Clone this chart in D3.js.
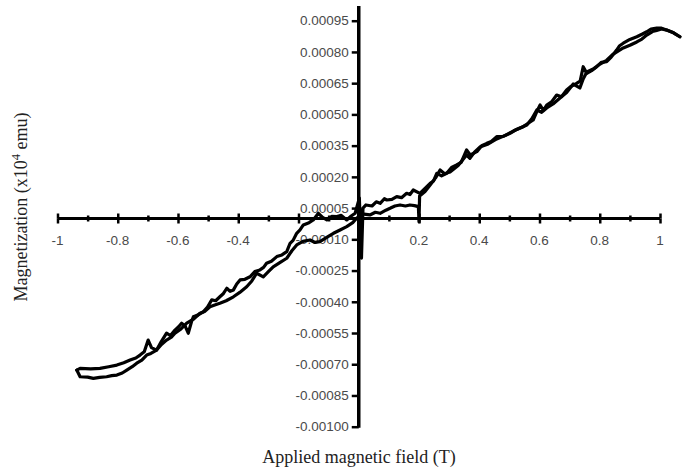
<!DOCTYPE html>
<html>
<head>
<meta charset="utf-8">
<script src="https://cdn.jsdelivr.net/npm/d3@7"></script>
<style>
  html, body { margin: 0; padding: 0; background: #fff; }
  svg { display: block; }
</style>
</head>
<body>
<svg id="chart" width="683" height="468"></svg>
<script>
// ---- Data (field in T, magnetization in emu) ----
// Upper branch of the loop (sweep down), listed left to right
const upperField = [-0.936,-0.925,-0.890,-0.859,-0.830,-0.803,-0.780,-0.759,-0.740,-0.726,-0.712,-0.699,-0.688,-0.671,-0.655,-0.638,-0.625,-0.610,-0.598,-0.588,-0.577,-0.566,-0.555,-0.549,-0.532,-0.516,-0.502,-0.488,-0.475,-0.461,-0.449,-0.438,-0.427,-0.416,-0.405,-0.394,-0.378,-0.361,-0.345,-0.328,-0.316,-0.306,-0.290,-0.272,-0.255,-0.239,-0.228,-0.218,-0.206,-0.195,-0.184,-0.165,-0.151,-0.134,-0.120,-0.106,-0.090,-0.073,-0.058,-0.040,-0.025,-0.012,0.002,0.009,0.014,0.024,0.044,0.058,0.071,0.085,0.093,0.110,0.126,0.142,0.159,0.170,0.181,0.203,0.220,0.237,0.248,0.259,0.275,0.292,0.308,0.325,0.340,0.358,0.370,0.392,0.408,0.425,0.440,0.458,0.480,0.502,0.520,0.546,0.560,0.579,0.590,0.602,0.613,0.624,0.640,0.657,0.673,0.690,0.705,0.723,0.735,0.745,0.757,0.773,0.790,0.805,0.823,0.838,0.856,0.866,0.878,0.900,0.923,0.940,0.956,0.970,0.989,1.005,1.022,1.045,1.066];
const upperMag = [-7.28e-4,-7.20e-4,-7.22e-4,-7.20e-4,-7.12e-4,-7.04e-4,-6.93e-4,-6.80e-4,-6.70e-4,-6.56e-4,-6.40e-4,-5.84e-4,-6.20e-4,-6.32e-4,-5.90e-4,-5.51e-4,-5.62e-4,-5.36e-4,-5.20e-4,-5.03e-4,-5.15e-4,-5.51e-4,-4.95e-4,-4.72e-4,-4.62e-4,-4.48e-4,-4.25e-4,-3.91e-4,-3.95e-4,-3.76e-4,-3.60e-4,-3.35e-4,-3.50e-4,-3.43e-4,-3.15e-4,-2.95e-4,-2.92e-4,-2.80e-4,-2.55e-4,-2.47e-4,-2.35e-4,-2.15e-4,-2.05e-4,-1.83e-4,-1.75e-4,-1.59e-4,-1.19e-4,-1.05e-4,-0.71e-4,-0.55e-4,-0.31e-4,-0.20e-4,-0.07e-4,0.25e-4,0.05e-4,-0.07e-4,0.10e-4,0.09e-4,0.15e-4,-0.07e-4,0.12e-4,0.25e-4,0.98e-4,-1.90e-4,0.50e-4,0.65e-4,0.60e-4,0.80e-4,0.73e-4,0.95e-4,0.89e-4,0.92e-4,1.05e-4,1.00e-4,1.21e-4,1.15e-4,1.37e-4,1.21e-4,1.45e-4,1.69e-4,1.80e-4,2.17e-4,2.05e-4,2.17e-4,2.45e-4,2.57e-4,2.70e-4,3.29e-4,3.05e-4,3.21e-4,3.50e-4,3.61e-4,3.70e-4,3.93e-4,3.95e-4,4.09e-4,4.25e-4,4.41e-4,4.55e-4,4.73e-4,5.10e-4,5.45e-4,5.20e-4,5.45e-4,5.60e-4,5.93e-4,5.85e-4,6.17e-4,6.35e-4,6.49e-4,6.60e-4,7.29e-4,6.97e-4,7.10e-4,7.29e-4,7.50e-4,7.53e-4,7.75e-4,8.09e-4,8.30e-4,8.42e-4,8.60e-4,8.73e-4,8.85e-4,8.97e-4,9.10e-4,9.14e-4,9.14e-4,9.05e-4,8.92e-4,8.73e-4];
// Lower branch of the loop (sweep up)
const lowerField = [-0.936,-0.925,-0.900,-0.881,-0.860,-0.837,-0.820,-0.803,-0.785,-0.770,-0.752,-0.737,-0.720,-0.704,-0.690,-0.671,-0.655,-0.638,-0.622,-0.610,-0.590,-0.571,-0.550,-0.527,-0.510,-0.494,-0.478,-0.461,-0.440,-0.416,-0.395,-0.372,-0.355,-0.339,-0.317,-0.300,-0.284,-0.262,-0.239,-0.222,-0.206,-0.185,-0.162,-0.145,-0.129,-0.105,-0.084,-0.062,-0.040,-0.020,-0.007,0.011,0.037,0.055,0.071,0.090,0.104,0.120,0.137,0.155,0.170,0.185,0.198,0.200,0.202,0.220,0.237,0.255,0.270,0.285,0.303,0.330,0.358,0.369,0.385,0.402,0.430,0.458,0.485,0.513,0.535,0.558,0.575,0.591,0.607,0.624,0.645,0.668,0.690,0.712,0.734,0.745,0.757,0.780,0.801,0.823,0.845,0.862,0.878,0.900,0.923,0.940,0.956,0.975,0.989,1.005,1.022,1.045,1.066];
const lowerMag = [-7.28e-4,-7.60e-4,-7.62e-4,-7.68e-4,-7.63e-4,-7.60e-4,-7.55e-4,-7.52e-4,-7.42e-4,-7.28e-4,-7.12e-4,-6.95e-4,-6.80e-4,-6.56e-4,-6.48e-4,-6.32e-4,-6.05e-4,-5.84e-4,-5.70e-4,-5.51e-4,-5.30e-4,-5.03e-4,-4.85e-4,-4.55e-4,-4.45e-4,-4.24e-4,-4.15e-4,-4.07e-4,-3.95e-4,-3.76e-4,-3.55e-4,-3.28e-4,-3.00e-4,-2.63e-4,-2.80e-4,-2.55e-4,-2.32e-4,-2.12e-4,-1.91e-4,-1.55e-4,-1.27e-4,-1.10e-4,-1.03e-4,-1.15e-4,-1.11e-4,-0.90e-4,-0.71e-4,-0.55e-4,-0.39e-4,-0.20e-4,0.01e-4,0.22e-4,0.17e-4,0.30e-4,0.25e-4,0.40e-4,0.49e-4,0.60e-4,0.65e-4,0.60e-4,0.65e-4,0.62e-4,0.57e-4,-0.15e-4,1.08e-4,1.30e-4,1.61e-4,1.95e-4,2.33e-4,2.15e-4,2.23e-4,2.55e-4,3.05e-4,2.89e-4,3.20e-4,3.43e-4,3.58e-4,3.82e-4,3.98e-4,4.20e-4,4.35e-4,4.49e-4,4.80e-4,5.21e-4,5.10e-4,5.31e-4,5.50e-4,5.79e-4,6.05e-4,6.46e-4,6.27e-4,6.70e-4,7.04e-4,7.20e-4,7.42e-4,7.60e-4,7.90e-4,8.05e-4,8.19e-4,8.32e-4,8.48e-4,8.62e-4,8.81e-4,8.98e-4,9.03e-4,9.10e-4,9.05e-4,8.92e-4,8.73e-4];

// Axis ticks
const xMajorTicks = [-1,-0.8,-0.6,-0.4,-0.2,0,0.2,0.4,0.6,0.8,1];
const xTickLabels = ["-1","-0.8","-0.6","-0.4","","","0.2","0.4","0.6","0.8","1"];
const xMinorTicks = [-0.9,-0.7,-0.5,-0.3,-0.1,0.1,0.3,0.5,0.7,0.9];
const yTicks = [0.00095,0.00080,0.00065,0.00050,0.00035,0.00020,0.00005,-0.00010,-0.00025,-0.00040,-0.00055,-0.00070,-0.00085,-0.00100];
const yTickLabels = ["0.00095","0.00080","0.00065","0.00050","0.00035","0.00020","0.00005","-0.00010","-0.00025","-0.00040","-0.00055","-0.00070","-0.00085","-0.00100"];

const xTitle = "Applied magnetic field (T)";

// ---- Drawing ----
const svg = d3.select("#chart");
const x = d3.scaleLinear().domain([-1, 1]).range([57.5, 660]);
const y = d3.scaleLinear().domain([-0.001, 0.001]).range([426.7, 10.3]);

const labelFont = "'Liberation Sans', Arial, sans-serif";
const labelColor = "#4a4a4a";

// Y tick labels
svg.append("g").selectAll("text").data(yTicks).join("text")
  .attr("x", x(0) - 10)
  .attr("y", d => y(d))
  .attr("dy", "0.35em")
  .attr("text-anchor", "end")
  .attr("font-family", labelFont)
  .attr("font-size", 13.5)
  .attr("fill", labelColor)
  .text((d, i) => yTickLabels[i]);

// X tick labels
svg.append("g").selectAll("text").data(xMajorTicks).join("text")
  .attr("x", d => x(d))
  .attr("y", y(0) + 26)
  .attr("text-anchor", "middle")
  .attr("font-family", labelFont)
  .attr("font-size", 13.5)
  .attr("fill", labelColor)
  .text((d, i) => xTickLabels[i]);

// Axes via d3 axes
const xAxisMajor = d3.axisBottom(x).tickValues(xMajorTicks).tickSizeInner(5).tickSizeOuter(0).tickFormat("");
const xAxisMajorTop = d3.axisTop(x).tickValues(xMajorTicks).tickSizeInner(5).tickSizeOuter(0).tickFormat("");
const xAxisMinor = d3.axisBottom(x).tickValues(xMinorTicks).tickSizeInner(3).tickSizeOuter(0).tickFormat("");
const xAxisMinorTop = d3.axisTop(x).tickValues(xMinorTicks).tickSizeInner(3).tickSizeOuter(0).tickFormat("");

[xAxisMajor, xAxisMajorTop, xAxisMinor, xAxisMinorTop].forEach(ax => {
  const g = svg.append("g").attr("transform", `translate(0,${y(0)})`).call(ax);
  g.selectAll(".domain").remove();
  g.selectAll("line").attr("stroke", "#000").attr("stroke-width", 2.5);
});
svg.append("line")
  .attr("x1", x(-1)).attr("x2", x(1))
  .attr("y1", y(0)).attr("y2", y(0))
  .attr("stroke", "#000").attr("stroke-width", 3);

const yAxis = d3.axisLeft(y).tickValues(yTicks).tickSizeInner(7).tickSizeOuter(0).tickFormat("");
const gy = svg.append("g").attr("transform", `translate(${x(0)},0)`).call(yAxis);
gy.selectAll(".domain").remove();
gy.selectAll("line").attr("stroke", "#000").attr("stroke-width", 2.5);
svg.append("line")
  .attr("x1", x(0)).attr("x2", x(0))
  .attr("y1", 6).attr("y2", y(-0.001) + 1)
  .attr("stroke", "#000").attr("stroke-width", 3.5);

// Curve
const line = d3.line().x(d => x(d[0])).y(d => y(d[1]));
const upper = upperField.map((f, i) => [f, upperMag[i]]);
const lower = lowerField.map((f, i) => [f, lowerMag[i]]);
[upper, lower].forEach(series => {
  svg.append("path")
    .datum(series)
    .attr("d", line)
    .attr("fill", "none")
    .attr("stroke", "#000")
    .attr("stroke-width", 3.2)
    .attr("stroke-linejoin", "round")
    .attr("stroke-linecap", "round");
});

// Axis titles
svg.append("text")
  .attr("x", 359).attr("y", 463)
  .attr("text-anchor", "middle")
  .attr("font-family", "'Liberation Serif', 'Times New Roman', serif")
  .attr("font-size", 18)
  .attr("fill", "#222")
  .text(xTitle);

const yt = svg.append("text")
  .attr("transform", "translate(27,207) rotate(-90)")
  .attr("text-anchor", "middle")
  .attr("font-family", "'Liberation Serif', 'Times New Roman', serif")
  .attr("font-size", 18)
  .attr("fill", "#222");
yt.append("tspan").text("Magnetization (x10");
yt.append("tspan").attr("dy", -7).attr("font-size", 12.5).text("4");
yt.append("tspan").attr("dy", 7).text(" emu)");
</script>
</body>
</html>
